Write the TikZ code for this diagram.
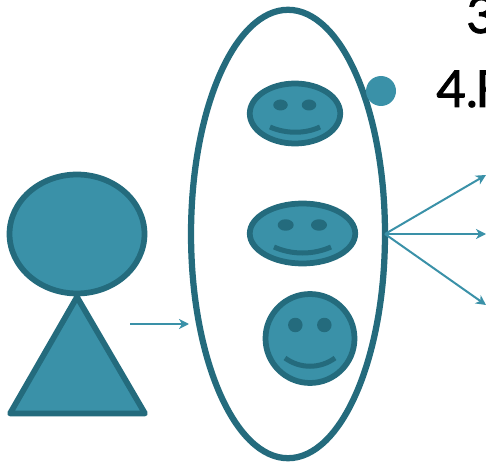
\documentclass[tikz,border=0pt]{standalone}
\usepackage{fontspec}
\setmainfont{Lato}
\newfontface\slidefont{Lato}[FakeBold=1.5]
\usetikzlibrary{arrows.meta,shapes.geometric}
\definecolor{bodyfill}{HTML}{3A91A8}
\definecolor{bodyline}{HTML}{246B7D}
\tikzset{
  outline/.style={draw=bodyline,fill=bodyfill,line width=0.115cm,line join=round},
  blob/.style={outline,ellipse,inner sep=0pt,outer sep=0pt},
  eye/.style={ellipse,fill=bodyline,inner sep=0pt,outer sep=0pt},
  mouth/.style={draw=bodyline,line width=0.1cm},
  link/.style={draw=bodyfill,line width=0.04cm,-{Stealth[length=0.2cm,width=0.2cm,inset=0.06cm]}},
  bigtext/.style={anchor=base west,inner sep=0pt,font=\slidefont\fontsize{29}{29}\selectfont}
}
\begin{document}
\begin{tikzpicture}[x=0.02cm,y=-0.02cm]
                \useasboundingbox (0,0) rectangle (486,462);
                \clip (0,0) rectangle (486,462);

                % Drawing the person
                \draw [outline] (77,297) -- (145,413.5) -- (10,413.5) -- cycle;
                \node [blob,minimum width=2.7cm,minimum height=2.38cm] (head) at (77,234) {};

                % Drawing the big ring
                \node [draw=bodyline,line width=0.125cm,ellipse,inner sep=0pt,outer sep=0pt,
                       minimum width=3.88cm,minimum height=8.97cm] (ring) at (288,234) {};

                % Marking the dot and the cut-off text
                \node [circle,fill=bodyfill,inner sep=0pt,minimum size=0.6cm] (dot) at (381,91) {};
                \node [bigtext] (three) at (466,33) {3};
                \node [bigtext] (four) at (436,107) {4.\kern-1.5pt F};

                % Drawing face one
                \node [blob,minimum width=1.81cm,minimum height=1.2cm] (faceA) at (295,113.5) {};
                \node [eye,minimum width=0.29cm,minimum height=0.22cm] (eyeAl) at (280.5,105) {};
                \node [eye,minimum width=0.29cm,minimum height=0.22cm] (eyeAr) at (309,105) {};
                \draw [mouth] (270,127) .. controls (286,134) and (305,134) .. (320,127);

                % Drawing face two
                \node [blob,minimum width=2.11cm,minimum height=1.2cm] (faceB) at (302.5,233.5) {};
                \node [eye,minimum width=0.32cm,minimum height=0.23cm] (eyeBl) at (285.7,225) {};
                \node [eye,minimum width=0.32cm,minimum height=0.23cm] (eyeBr) at (319,225) {};
                \draw [mouth] (274,247) .. controls (292,255) and (313,255) .. (331,247);

                % Drawing face three
                \node [blob,minimum width=1.78cm,minimum height=1.78cm] (faceC) at (310,338.5) {};
                \node [eye,minimum width=0.29cm,minimum height=0.29cm] (eyeCl) at (295.3,325) {};
                \node [eye,minimum width=0.29cm,minimum height=0.29cm] (eyeCr) at (324.3,325) {};
                \draw [mouth] (285,358) .. controls (300,369) and (320,369) .. (335,358);

                % Drawing the arrows
                \coordinate (start) at (130,324);
                \coordinate (stop) at (189,324);
                \coordinate (fan) at (385,234);
                \coordinate (endA) at (486,175);
                \coordinate (endB) at (486,234);
                \coordinate (endC) at (486,305);
                \draw [link] (start) -- (stop);
                \draw [link] (fan) -- (endA);
                \draw [link] (fan) -- (endB);
                \draw [link] (fan) -- (endC);
\end{tikzpicture}
\end{document}
